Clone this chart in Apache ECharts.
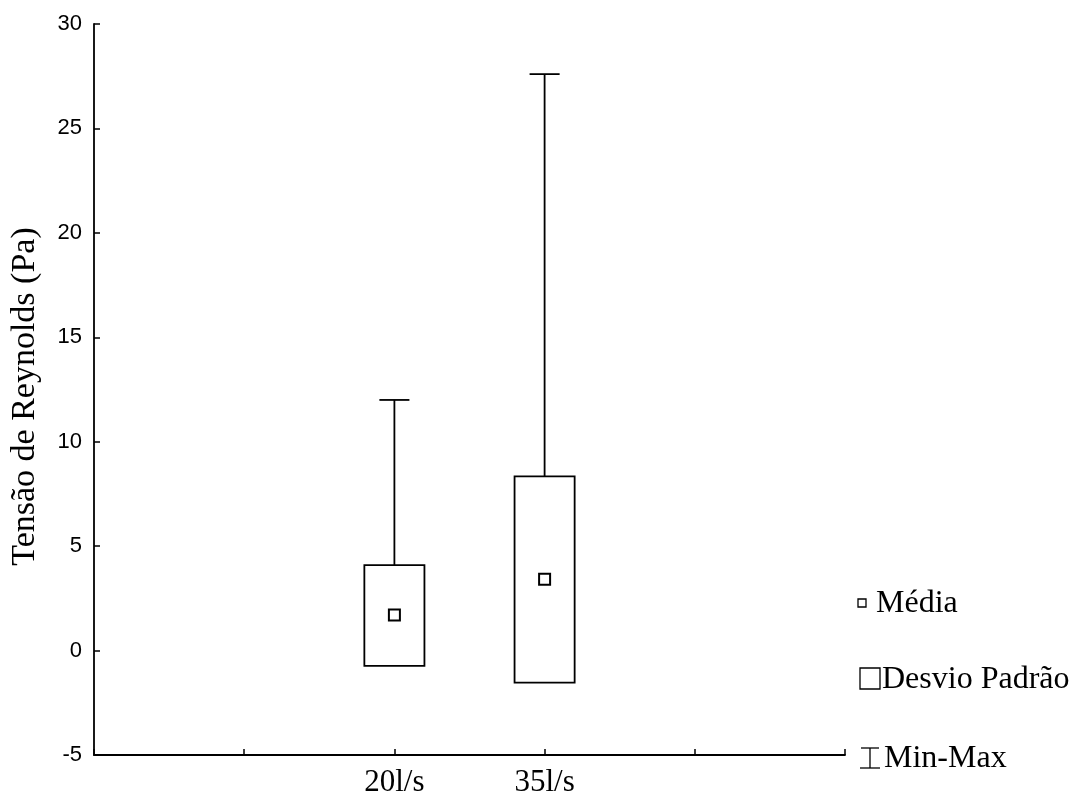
<!DOCTYPE html>
<html>
<head>
<meta charset="utf-8">
<script src="https://cdn.jsdelivr.net/npm/echarts@6/dist/echarts.min.js"></script>
<style>
html,body{margin:0;padding:0;background:#fff;}
#chart{width:1078px;height:798px;}
</style>
</head>
<body>
<div id="chart"></div>
<script>
// Axis categories (positions on the x axis; only two are labelled)
const axisCategories = ['', ' ', '20l/s', '35l/s', '  ', '   '];
const groups = ['20l/s', '35l/s'];
const means = [1.70, 3.42];
const sdLow = [-0.73, -1.53];
const sdHigh = [4.09, 8.34];
const maxVals = [12.0, 27.6];
const yTicks = [-5, 0, 5, 10, 15, 20, 25, 30];
const yTitle = 'Tensão de Reynolds (Pa)';
const legendLabels = ['Média', 'Desvio Padrão', 'Min-Max'];

const serif = '"Liberation Serif", "Times New Roman", serif';
const sans = '"Liberation Sans", Arial, sans-serif';

const boxData = groups.map((g, i) => [axisCategories.indexOf(g), sdLow[i], sdHigh[i], maxVals[i]]);
const meanData = groups.map((g, i) => [axisCategories.indexOf(g), means[i]]);

const chart = echarts.init(document.getElementById('chart'), null, {renderer: 'canvas'});
chart.setOption({
  animation: false,
  backgroundColor: '#fff',
  grid: {left: 94, right: 233, top: 24, bottom: 43, containLabel: false, outerBoundsMode: 'none'},
  xAxis: {
    type: 'category',
    data: axisCategories,
    boundaryGap: false,
    axisLine: {onZero: false, lineStyle: {color: '#000', width: 1.8}},
    axisTick: {inside: true, length: 6, lineStyle: {color: '#000', width: 1.5}, alignWithLabel: true},
    axisLabel: {color: '#000', fontFamily: serif, fontSize: 31, margin: 12, interval: 0},
    splitLine: {show: false}
  },
  yAxis: {
    type: 'value',
    min: yTicks[0],
    max: yTicks[yTicks.length - 1],
    interval: 5,
    name: yTitle,
    nameLocation: 'middle',
    nameGap: 52,
    nameTextStyle: {color: '#000', fontFamily: serif, fontSize: 34, padding: [0, 14, 0, 0]},
    axisLine: {show: true, lineStyle: {color: '#000', width: 1.8}},
    axisTick: {show: true, inside: true, length: 6, lineStyle: {color: '#000', width: 1.5}},
    axisLabel: {color: '#000', fontFamily: sans, fontSize: 22, margin: 12},
    splitLine: {show: false}
  },
  series: [
    {
      type: 'custom',
      name: 'Desvio Padrão',
      data: boxData,
      encode: {x: 0, y: [1, 2, 3]},
      renderItem: function (params, api) {
        const x = api.value(0);
        const lo = api.coord([x, api.value(1)]);
        const hi = api.coord([x, api.value(2)]);
        const mx = api.coord([x, api.value(3)]);
        const unit = api.size([1, 0])[0];
        const bw = unit * 0.4;
        const cw = unit * 0.2;
        const st = {stroke: '#000', lineWidth: 1.8, fill: null};
        return {
          type: 'group',
          children: [
            {type: 'line', shape: {x1: hi[0], y1: hi[1], x2: mx[0], y2: mx[1]}, style: st},
            {type: 'line', shape: {x1: mx[0] - cw / 2, y1: mx[1], x2: mx[0] + cw / 2, y2: mx[1]}, style: st},
            {type: 'rect', shape: {x: hi[0] - bw / 2, y: hi[1], width: bw, height: lo[1] - hi[1]},
              style: {stroke: '#000', lineWidth: 1.8, fill: '#fff'}}
          ]
        };
      },
      z: 2
    },
    {
      type: 'scatter',
      name: 'Média',
      data: meanData,
      symbol: 'rect',
      symbolSize: 11,
      itemStyle: {color: '#fff', borderColor: '#000', borderWidth: 2, opacity: 1},
      z: 3
    }
  ],
  graphic: [
    {type: 'rect', shape: {x: 858, y: 599, width: 8, height: 8}, style: {fill: '#fff', stroke: '#000', lineWidth: 1.3}},
    {type: 'text', x: 876, y: 604, style: {text: legendLabels[0], font: '32px ' + serif, fill: '#000', textVerticalAlign: 'middle', verticalAlign: 'middle'}},
    {type: 'rect', shape: {x: 860, y: 668, width: 20, height: 21}, style: {fill: '#fff', stroke: '#000', lineWidth: 1.3}},
    {type: 'text', x: 882, y: 680, style: {text: legendLabels[1], font: '32px ' + serif, fill: '#000', textVerticalAlign: 'middle', verticalAlign: 'middle'}},
    {type: 'polyline', shape: {points: [[861, 748], [879, 748]]}, style: {stroke: '#000', lineWidth: 1.3}},
    {type: 'polyline', shape: {points: [[870, 748], [870, 768]]}, style: {stroke: '#000', lineWidth: 1.3}},
    {type: 'polyline', shape: {points: [[860, 768], [880, 768]]}, style: {stroke: '#000', lineWidth: 1.3}},
    {type: 'text', x: 884, y: 759, style: {text: legendLabels[2], font: '32px ' + serif, fill: '#000', textVerticalAlign: 'middle', verticalAlign: 'middle'}}
  ]
});
</script>
</body>
</html>
